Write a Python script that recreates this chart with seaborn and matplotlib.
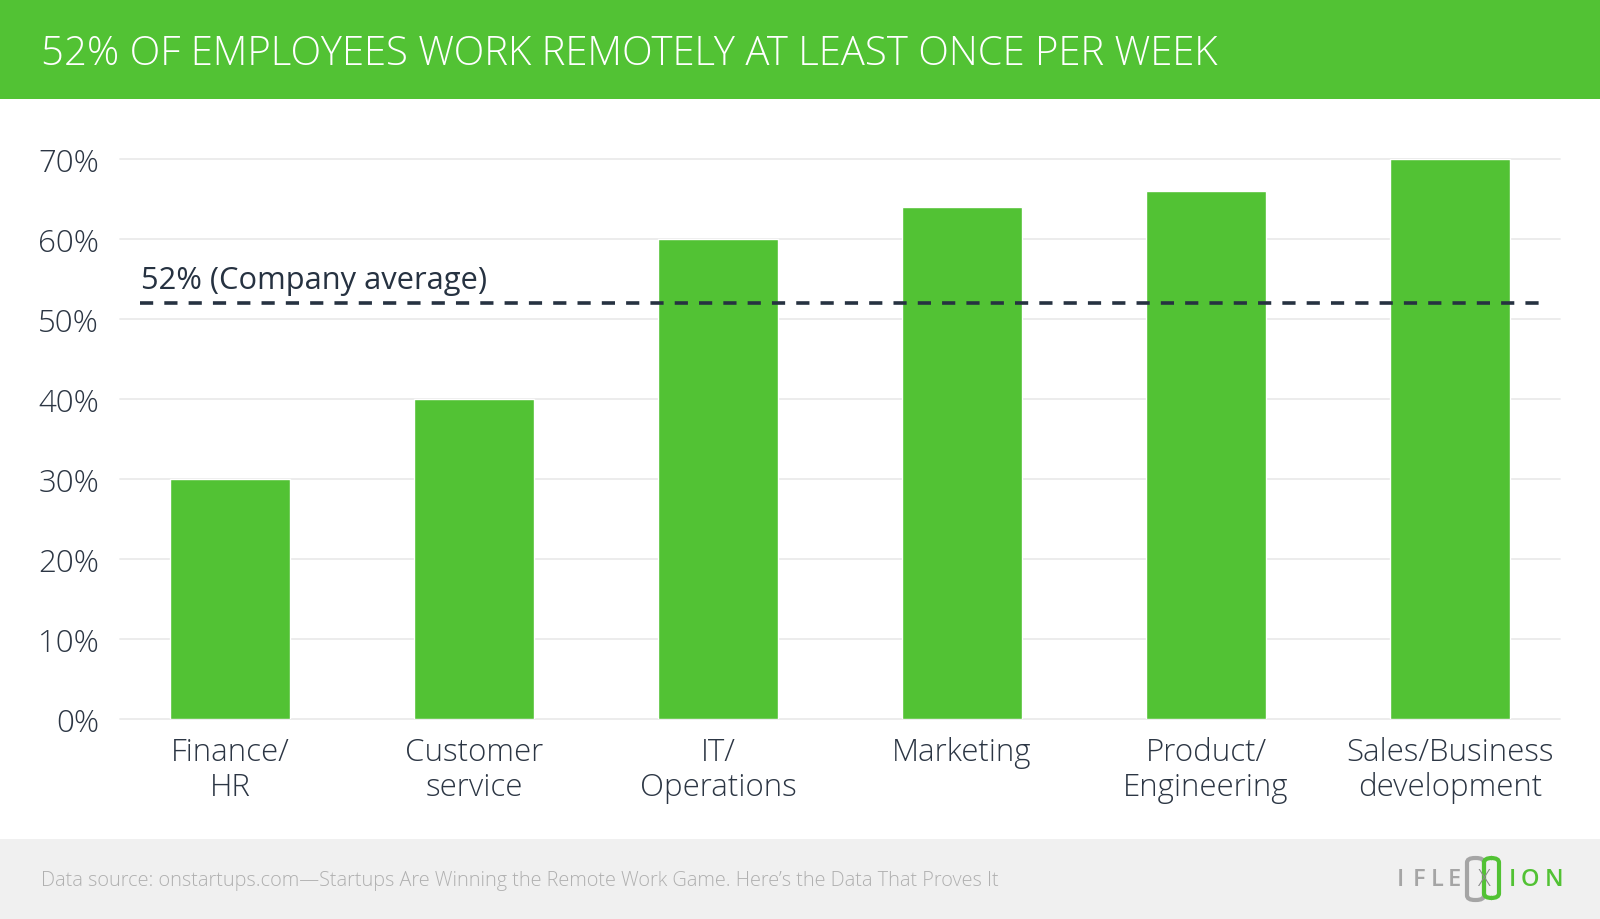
import matplotlib
matplotlib.use("Agg")
import matplotlib.pyplot as plt
import matplotlib.transforms as mtransforms
from matplotlib.patches import Rectangle, FancyBboxPatch
import seaborn as sns
import pandas as pd

# ---- data ----
categories = ["Finance/\nHR", "Customer\nservice", "IT/\nOperations", "Marketing",
              "Product/\nEngineering", "Sales/Business\ndevelopment"]
values = [30, 40, 60, 64, 66, 70]
average = 52
yticks = [0, 10, 20, 30, 40, 50, 60, 70]
ytick_labels = ["0%", "10%", "20%", "30%", "40%", "50%", "60%", "70%"]
title = "52% OF EMPLOYEES WORK REMOTELY AT LEAST ONCE PER WEEK"
avg_label = "52% (Company average)"
source = "Data source: onstartups.com\u2014Startups Are Winning the Remote Work Game. Here\u2019s the Data That Proves It"

GREEN = "#52c234"
TEXT = "#2c3644"
W, H = 1600, 920

sns.set_theme(style="white")
plt.rcParams["font.family"] = ["Open Sans", "DejaVu Sans"]
plt.rcParams["lines.scale_dashes"] = False

fig = plt.figure(figsize=(W / 100, H / 100), dpi=100)
fig.patch.set_facecolor("white")

# header / footer bands
fig.add_artist(Rectangle((0, 1 - 100 / H), 1, 100 / H, transform=fig.transFigure,
                         facecolor=GREEN, edgecolor="none", zorder=0))
fig.add_artist(Rectangle((0, 0), 1, 80 / H, transform=fig.transFigure,
                         facecolor="#f0f0f0", edgecolor="none", zorder=0))

ax = fig.add_axes([120 / W, (H - 720) / H, 1440 / W, 560 / H])
df = pd.DataFrame({"cat": categories, "val": values})
sns.barplot(data=df, x="cat", y="val", color=GREEN, saturation=1, width=0.49, ax=ax, zorder=3)
ax.set_xlim(-0.45, len(categories) - 0.55)
ax.set_ylim(0, 70)
ax.set_yticks(yticks)
ax.set_yticklabels(ytick_labels)
ax.set_xlabel("")
ax.set_ylabel("")
for s in ax.spines.values():
    s.set_visible(False)
for y in yticks:
    ax.axhline(y, color="#ebebeb", lw=1.3, zorder=1, clip_on=False)
ax.tick_params(axis="y", length=0, pad=15, labelsize=22.5, labelcolor=TEXT)
ax.tick_params(axis="x", length=0, pad=12, labelsize=22.5, labelcolor=TEXT)
for lab in ax.get_yticklabels() + ax.get_xticklabels():
    lab.set_fontweight("light")
for lab in ax.get_xticklabels():
    lab.set_linespacing(1.12)

# average line
ax.axhline(average, xmin=20 / 1440, xmax=1 - 20 / 1440, color="#263241", lw=2.6,
           dashes=(9.5, 8), zorder=4)
tr = mtransforms.blended_transform_factory(ax.transAxes, ax.transData)
ax.text(21 / 1440, 53.9, avg_label, transform=tr, fontsize=22.2, color="#263241",
        va="baseline", ha="left", zorder=5)

# title
fig.text(41 / W, 1 - 65 / H, title, color="white", fontsize=28.9, fontweight="light",
         va="baseline", ha="left")

# footer
fig.text(41 / W, 1 - 881 / H, source, color="#b0b0b0", fontsize=14.3, fontweight="light",
         va="center", ha="left")

# logo
for ch, xp in zip("IFLE", [1397, 1413, 1431, 1448]):
    fig.text(xp / W, 1 - 880 / H, ch, color="#a5a5a5", fontsize=17, fontweight="semibold",
             va="center", ha="left")
for ch, xp in zip("ION", [1509, 1521, 1545]):
    fig.text(xp / W, 1 - 880 / H, ch, color=GREEN, fontsize=17, fontweight="semibold",
             va="center", ha="left")
fig.add_artist(FancyBboxPatch((1467 / W, 1 - 901 / H), 17 / W, 42 / H,
                              boxstyle="round,pad=0,rounding_size=0.005",
                              transform=fig.transFigure, facecolor="none",
                              edgecolor="#a5a5a5", lw=3))
fig.add_artist(FancyBboxPatch((1484 / W, 1 - 899 / H), 15 / W, 40 / H,
                              boxstyle="round,pad=0,rounding_size=0.005",
                              transform=fig.transFigure, facecolor="none",
                              edgecolor=GREEN, lw=3))
fig.text(1484 / W, 1 - 880 / H, "X", color="#8a8a8a", fontsize=17, fontweight="light",
         va="center", ha="center")

fig.savefig("out.png", dpi=100)
